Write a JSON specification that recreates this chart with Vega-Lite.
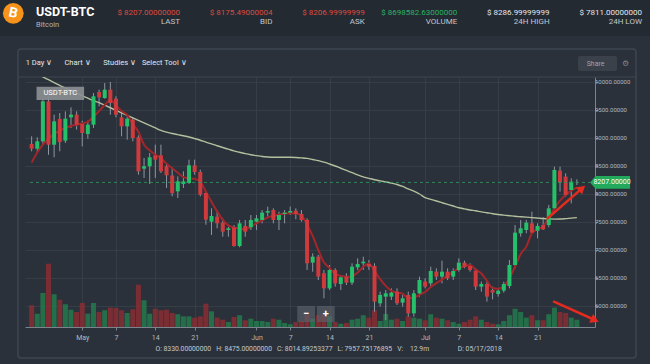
{
"$schema":"https://vega.github.io/schema/vega-lite/v6.json",
"width":570,"height":250,"autosize":"none",
"padding":{"left":25,"top":77,"right":55,"bottom":37},
"background":"#2b313a",
"config":{"font":"Roboto","view":{"stroke":null},"axis":{"labelFont":"Roboto","titleFont":"Roboto"}},
"datasets":{
"candles":[
{"d":"2018-04-22","o":8893,"h":9030,"l":8762,"c":8809,"v":20.0,"m1":8560,"m2":10200},
{"d":"2018-04-23","o":8809,"h":9012,"l":8750,"c":8940,"v":12.2,"m1":8740,"m2":10140},
{"d":"2018-04-24","o":8940,"h":9705,"l":8890,"c":9655,"v":31.3,"m1":8880,"m2":10090},
{"d":"2018-04-25","o":9655,"h":9740,"l":8700,"c":8880,"v":58.2,"m1":8990,"m2":10040},
{"d":"2018-04-26","o":8880,"h":9416,"l":8655,"c":9297,"v":30.1,"m1":9070,"m2":9990},
{"d":"2018-04-27","o":9340,"h":9446,"l":8762,"c":8928,"v":25.1,"m1":9130,"m2":9940},
{"d":"2018-04-28","o":8952,"h":9476,"l":8911,"c":9345,"v":20.9,"m1":9180,"m2":9890},
{"d":"2018-04-29","o":9369,"h":9547,"l":9179,"c":9417,"v":15.9,"m1":9215,"m2":9845},
{"d":"2018-04-30","o":9417,"h":9476,"l":9149,"c":9238,"v":13.8,"m1":9238,"m2":9800},
{"d":"2018-05-01","o":9250,"h":9309,"l":8851,"c":9089,"v":22.1,"m1":9260,"m2":9755},
{"d":"2018-05-02","o":9071,"h":9309,"l":8988,"c":9238,"v":12.2,"m1":9290,"m2":9710},
{"d":"2018-05-03","o":9238,"h":9803,"l":9179,"c":9744,"v":22.1,"m1":9380,"m2":9667},
{"d":"2018-05-04","o":9821,"h":9863,"l":9565,"c":9726,"v":13.8,"m1":9480,"m2":9630},
{"d":"2018-05-05","o":9714,"h":9982,"l":9702,"c":9863,"v":15.4,"m1":9590,"m2":9585},
{"d":"2018-05-06","o":9863,"h":10000,"l":9416,"c":9625,"v":17.8,"m1":9680,"m2":9540},
{"d":"2018-05-07","o":9702,"h":9744,"l":9369,"c":9416,"v":17.5,"m1":9580,"m2":9495},
{"d":"2018-05-08","o":9369,"h":9476,"l":9030,"c":9208,"v":15.4,"m1":9480,"m2":9450},
{"d":"2018-05-09","o":9208,"h":9387,"l":8970,"c":9345,"v":12.9,"m1":9410,"m2":9405},
{"d":"2018-05-10","o":9327,"h":9369,"l":8940,"c":9000,"v":16.3,"m1":9250,"m2":9360},
{"d":"2018-05-11","o":9012,"h":9047,"l":8345,"c":8405,"v":38.9,"m1":9110,"m2":9315},
{"d":"2018-05-12","o":8452,"h":8643,"l":8286,"c":8494,"v":24.6,"m1":8880,"m2":9270},
{"d":"2018-05-13","o":8494,"h":8732,"l":8179,"c":8655,"v":12.2,"m1":8780,"m2":9225},
{"d":"2018-05-14","o":8690,"h":8881,"l":8286,"c":8613,"v":16.8,"m1":8700,"m2":9180},
{"d":"2018-05-15","o":8690,"h":8881,"l":8375,"c":8405,"v":15.4,"m1":8640,"m2":9135},
{"d":"2018-05-16","o":8494,"h":8554,"l":8107,"c":8333,"v":15.9,"m1":8540,"m2":9105},
{"d":"2018-05-17","o":8330,"h":8475,"l":7958,"c":8015,"v":12.9,"m1":8460,"m2":9080},
{"d":"2018-05-18","o":8047,"h":8315,"l":7928,"c":8226,"v":11.7,"m1":8380,"m2":9060},
{"d":"2018-05-19","o":8179,"h":8405,"l":8107,"c":8226,"v":9.8,"m1":8300,"m2":9040},
{"d":"2018-05-20","o":8196,"h":8613,"l":8179,"c":8512,"v":9.8,"m1":8280,"m2":9018},
{"d":"2018-05-21","o":8512,"h":8613,"l":8345,"c":8393,"v":8.6,"m1":8270,"m2":8990},
{"d":"2018-05-22","o":8393,"h":8434,"l":7958,"c":7988,"v":9.8,"m1":8220,"m2":8960},
{"d":"2018-05-23","o":8018,"h":8047,"l":7452,"c":7542,"v":21.4,"m1":8040,"m2":8925},
{"d":"2018-05-24","o":7506,"h":7744,"l":7268,"c":7607,"v":14.4,"m1":7860,"m2":8895},
{"d":"2018-05-25","o":7595,"h":7684,"l":7387,"c":7476,"v":8.6,"m1":7690,"m2":8862},
{"d":"2018-05-26","o":7488,"h":7565,"l":7238,"c":7327,"v":6.7,"m1":7540,"m2":8830},
{"d":"2018-05-27","o":7357,"h":7417,"l":7238,"c":7387,"v":4.6,"m1":7440,"m2":8800},
{"d":"2018-05-28","o":7405,"h":7446,"l":7060,"c":7071,"v":9.2,"m1":7400,"m2":8770},
{"d":"2018-05-29","o":7071,"h":7536,"l":7048,"c":7476,"v":10.8,"m1":7380,"m2":8745},
{"d":"2018-05-30","o":7429,"h":7536,"l":7238,"c":7327,"v":6.2,"m1":7370,"m2":8720},
{"d":"2018-05-31","o":7405,"h":7625,"l":7357,"c":7536,"v":7.6,"m1":7420,"m2":8700},
{"d":"2018-06-01","o":7506,"h":7625,"l":7357,"c":7565,"v":5.5,"m1":7476,"m2":8685},
{"d":"2018-06-02","o":7536,"h":7714,"l":7476,"c":7667,"v":5.5,"m1":7530,"m2":8670},
{"d":"2018-06-03","o":7667,"h":7774,"l":7595,"c":7696,"v":4.6,"m1":7580,"m2":8660},
{"d":"2018-06-04","o":7714,"h":7744,"l":7476,"c":7536,"v":7.6,"m1":7610,"m2":8655},
{"d":"2018-06-05","o":7536,"h":7684,"l":7357,"c":7625,"v":6.7,"m1":7630,"m2":8655},
{"d":"2018-06-06","o":7643,"h":7714,"l":7476,"c":7667,"v":3.7,"m1":7650,"m2":8655},
{"d":"2018-06-07","o":7667,"h":7774,"l":7625,"c":7696,"v":2.5,"m1":7655,"m2":8655},
{"d":"2018-06-08","o":7702,"h":7744,"l":7548,"c":7643,"v":4.6,"m1":7650,"m2":8652},
{"d":"2018-06-09","o":7643,"h":7714,"l":7506,"c":7536,"v":5.5,"m1":7620,"m2":8645},
{"d":"2018-06-10","o":7536,"h":7565,"l":6643,"c":6762,"v":13.8,"m1":7450,"m2":8635},
{"d":"2018-06-11","o":6774,"h":6940,"l":6613,"c":6881,"v":7.6,"m1":7250,"m2":8615},
{"d":"2018-06-12","o":6881,"h":6911,"l":6464,"c":6524,"v":10.8,"m1":7000,"m2":8595},
{"d":"2018-06-13","o":6583,"h":6643,"l":6137,"c":6315,"v":12.0,"m1":6780,"m2":8568},
{"d":"2018-06-14","o":6315,"h":6732,"l":6286,"c":6643,"v":9.8,"m1":6680,"m2":8535},
{"d":"2018-06-15","o":6643,"h":6673,"l":6345,"c":6405,"v":4.6,"m1":6570,"m2":8500},
{"d":"2018-06-16","o":6393,"h":6554,"l":6286,"c":6512,"v":3.0,"m1":6540,"m2":8460},
{"d":"2018-06-17","o":6524,"h":6583,"l":6375,"c":6417,"v":3.7,"m1":6520,"m2":8420},
{"d":"2018-06-18","o":6417,"h":6762,"l":6375,"c":6702,"v":6.7,"m1":6530,"m2":8380},
{"d":"2018-06-19","o":6690,"h":6851,"l":6643,"c":6750,"v":7.6,"m1":6600,"m2":8340},
{"d":"2018-06-20","o":6762,"h":6881,"l":6643,"c":6792,"v":10.8,"m1":6700,"m2":8305},
{"d":"2018-06-21","o":6750,"h":6821,"l":6643,"c":6702,"v":8.6,"m1":6760,"m2":8280},
{"d":"2018-06-22","o":6714,"h":6762,"l":5899,"c":6077,"v":15.4,"m1":6620,"m2":8255},
{"d":"2018-06-23","o":6048,"h":6256,"l":5988,"c":6196,"v":5.5,"m1":6480,"m2":8235},
{"d":"2018-06-24","o":6167,"h":6286,"l":5750,"c":6226,"v":12.0,"m1":6360,"m2":8215},
{"d":"2018-06-25","o":6167,"h":6315,"l":6107,"c":6238,"v":6.7,"m1":6270,"m2":8195},
{"d":"2018-06-26","o":6256,"h":6315,"l":6018,"c":6048,"v":7.6,"m1":6240,"m2":8170},
{"d":"2018-06-27","o":6060,"h":6196,"l":5988,"c":6137,"v":5.5,"m1":6220,"m2":8135},
{"d":"2018-06-28","o":6196,"h":6256,"l":5810,"c":5869,"v":9.8,"m1":6140,"m2":8090},
{"d":"2018-06-29","o":5869,"h":6286,"l":5810,"c":6226,"v":8.6,"m1":6150,"m2":8050},
{"d":"2018-06-30","o":6226,"h":6524,"l":6167,"c":6464,"v":7.6,"m1":6200,"m2":8000},
{"d":"2018-07-01","o":6435,"h":6494,"l":6315,"c":6345,"v":6.2,"m1":6250,"m2":7935},
{"d":"2018-07-02","o":6405,"h":6702,"l":6345,"c":6625,"v":11.7,"m1":6340,"m2":7905},
{"d":"2018-07-03","o":6613,"h":6673,"l":6464,"c":6524,"v":8.6,"m1":6410,"m2":7875},
{"d":"2018-07-04","o":6524,"h":6810,"l":6405,"c":6613,"v":7.6,"m1":6470,"m2":7845},
{"d":"2018-07-05","o":6613,"h":6673,"l":6464,"c":6494,"v":6.2,"m1":6540,"m2":7815},
{"d":"2018-07-06","o":6524,"h":6673,"l":6464,"c":6625,"v":4.6,"m1":6610,"m2":7785},
{"d":"2018-07-07","o":6643,"h":6851,"l":6613,"c":6774,"v":3.0,"m1":6670,"m2":7755},
{"d":"2018-07-08","o":6774,"h":6810,"l":6673,"c":6702,"v":4.6,"m1":6710,"m2":7735},
{"d":"2018-07-09","o":6714,"h":6762,"l":6613,"c":6643,"v":6.7,"m1":6730,"m2":7715},
{"d":"2018-07-10","o":6631,"h":6673,"l":6286,"c":6345,"v":9.8,"m1":6650,"m2":7700},
{"d":"2018-07-11","o":6345,"h":6435,"l":6256,"c":6393,"v":6.7,"m1":6580,"m2":7680},
{"d":"2018-07-12","o":6393,"h":6435,"l":6077,"c":6167,"v":4.6,"m1":6450,"m2":7665},
{"d":"2018-07-13","o":6286,"h":6345,"l":6119,"c":6238,"v":3.0,"m1":6320,"m2":7648},
{"d":"2018-07-14","o":6214,"h":6315,"l":6167,"c":6274,"v":2.5,"m1":6310,"m2":7635},
{"d":"2018-07-15","o":6274,"h":6435,"l":6238,"c":6393,"v":5.5,"m1":6345,"m2":7622},
{"d":"2018-07-16","o":6357,"h":6821,"l":6315,"c":6732,"v":10.8,"m1":6500,"m2":7612},
{"d":"2018-07-17","o":6732,"h":7446,"l":6673,"c":7310,"v":16.8,"m1":6700,"m2":7602},
{"d":"2018-07-18","o":7298,"h":7536,"l":7238,"c":7387,"v":13.8,"m1":6930,"m2":7594},
{"d":"2018-07-19","o":7357,"h":7536,"l":7298,"c":7488,"v":8.6,"m1":7060,"m2":7586},
{"d":"2018-07-20","o":7476,"h":7684,"l":7298,"c":7310,"v":10.8,"m1":7300,"m2":7578},
{"d":"2018-07-21","o":7345,"h":7476,"l":7208,"c":7429,"v":6.2,"m1":7370,"m2":7570},
{"d":"2018-07-22","o":7446,"h":7583,"l":7357,"c":7369,"v":6.2,"m1":7420,"m2":7562},
{"d":"2018-07-23","o":7446,"h":7804,"l":7405,"c":7744,"v":11.7,"m1":7580,"m2":7556},
{"d":"2018-07-24","o":7744,"h":8488,"l":7714,"c":8429,"v":17.8,"m1":7740,"m2":7552},
{"d":"2018-07-25","o":8417,"h":8488,"l":8042,"c":8202,"v":13.8,"m1":7880,"m2":7553},
{"d":"2018-07-26","o":8310,"h":8369,"l":7952,"c":7982,"v":12.9,"m1":7980,"m2":7560},
{"d":"2018-07-27","o":8071,"h":8280,"l":7833,"c":8220,"v":8.6,"m1":8060,"m2":7570},
{"d":"2018-07-28","o":8202,"h":8262,"l":8161,"c":8207,"v":6.7,"m1":8120,"m2":7578}
],
"ticks":[{"p":6000},{"p":6500},{"p":7000},{"p":7500},{"p":8000},{"p":8500},{"p":9000},{"p":9500},{"p":10000}],
"header":[
{"k":"LAST","line":"value","t":"$ 8207.00000000","tone":"down"},
{"k":"LAST","line":"label","t":"LAST","tone":"label"},
{"k":"BID","line":"value","t":"$ 8175.49000004","tone":"down"},
{"k":"BID","line":"label","t":"BID","tone":"label"},
{"k":"ASK","line":"value","t":"$ 8206.99999999","tone":"down"},
{"k":"ASK","line":"label","t":"ASK","tone":"label"},
{"k":"VOLUME","line":"value","t":"$ 8698582.63000000","tone":"up"},
{"k":"VOLUME","line":"label","t":"VOLUME","tone":"label"},
{"k":"24H HIGH","line":"value","t":"$ 8286.99999999","tone":"flat"},
{"k":"24H HIGH","line":"label","t":"24H HIGH","tone":"label"},
{"k":"24H LOW","line":"value","t":"$ 7811.00000000","tone":"flat"},
{"k":"24H LOW","line":"label","t":"24H LOW","tone":"label"}
],
"toolbar":[
{"k":"1 Day","t":"1 Day \u2228"},
{"k":"Chart","t":"Chart \u2228"},
{"k":"Studies","t":"Studies \u2228"},
{"k":"Select Tool","t":"Select Tool \u2228"}
]
},
"layer":[
{"data":{"values":[{}]},"mark":{"type":"rect","color":"#242a32"},
 "encoding":{
  "x":{"datum":0,"type":"quantitative","scale":{"domain":[0,1],"range":[-25,625]},"axis":null},
  "x2":{"datum":1},
  "y":{"datum":0,"type":"quantitative","scale":{"domain":[0,1],"range":[-77,-41]},"axis":null},
  "y2":{"datum":1}}},
{"data":{"values":[{}]},
 "layer":[
  {"mark":{"type":"rect","fill":null,"fillOpacity":0,"stroke":"#3e4651","strokeWidth":1.5,"cornerRadius":3},
   "encoding":{
    "x":{"datum":0,"type":"quantitative","scale":{"domain":[0,1],"range":[-7,611]},"axis":null},
    "x2":{"datum":1},
    "y":{"datum":0,"type":"quantitative","scale":{"domain":[0,1],"range":[-28,281]},"axis":null},
    "y2":{"datum":1}}},
  {"mark":{"type":"rule","color":"#3e4651","strokeWidth":1.2},
   "encoding":{"x":{"datum":0,"type":"quantitative"},"x2":{"datum":1},"y":{"datum":0.0906,"type":"quantitative"}}}
 ]},
{"data":{"name":"candles"},
 "layer":[
  {"mark":{"type":"bar","width":5,"opacity":0.8},
   "encoding":{
    "x":{"field":"d","type":"temporal",
     "scale":{"type":"utc","domain":[1524330000000,1532937600000],"nice":false},
     "axis":{"orient":"bottom","values":[1525132800000,1525651200000,1526256000000,1526860800000,1527811200000,1528329600000,1528934400000,1529539200000,1530403200000,1530921600000,1531526400000,1532131200000],
      "labelExpr":"utcdate(datum.value) == 1 ? utcFormat(datum.value, '%b') : utcFormat(datum.value, '%-d')",
      "grid":true,"gridColor":"#353d47","labelFontSize":7,"labelColor":"#b3b9bf","labelPadding":3,"labelAngle":0,"labelFlush":false,"labelOverlap":false,
      "tickSize":3,"tickColor":"#7b838d","domainColor":"#7b838d",
      "title":"O:\u00a08330.00000000\u00a0\u00a0\u00a0H:\u00a08475.00000000\u00a0\u00a0\u00a0C:\u00a08014.89253377\u00a0\u00a0\u00a0L:\u00a07957.75176895\u00a0\u00a0\u00a0V:\u00a0\u00a0\u00a0\u00a012.9m\u00a0\u00a0\u00a0\u00a0\u00a0\u00a0\u00a0\u00a0\u00a0\u00a0\u00a0\u00a0\u00a0\u00a0\u00a0\u00a0\u00a0D:\u00a005/17/2018",
      "titleFontSize":6.8,"titleFontWeight":"normal","titleColor":"#c4c9ce","titleAnchor":"start","titleAlign":"left","titleX":130,"titleY":21,"titleBaseline":"middle"}},
    "y":{"field":"v","type":"quantitative","scale":{"domain":[0,230]},"axis":null},
    "color":{"condition":{"test":"datum.c >= datum.o","value":"#23804f"},"value":"#8e2d32"}}},
  {"layer":[
   {"mark":{"type":"rule","color":"#8c96a2","strokeWidth":1},
    "encoding":{"x":{"field":"d","type":"temporal"},"y":{"field":"l","type":"quantitative","scale":{"domain":[5625,10089],"nice":false,"zero":false},
      "axis":{"orient":"right","values":[6000,6500,7000,7500,8000,8500,9000,9500,10000],"tickCount":9,"labels":false,"title":null,"grid":true,"gridColor":"#353d47","tickSize":3,"tickColor":"#7b838d","domainColor":"#7b838d"}},
     "y2":{"field":"h"}}},
   {"mark":{"type":"line","color":"#b4bf9e","strokeWidth":1.4,"clip":true,"interpolate":"monotone"},
    "encoding":{"x":{"field":"d","type":"temporal"},"y":{"field":"m2","type":"quantitative"}}},
   {"mark":{"type":"line","color":"#a3262b","strokeWidth":2,"interpolate":"monotone"},
    "encoding":{"x":{"field":"d","type":"temporal"},"y":{"field":"m1","type":"quantitative"}}},
   {"mark":{"type":"bar","width":4},
    "encoding":{"x":{"field":"d","type":"temporal"},"y":{"field":"o","type":"quantitative"},"y2":{"field":"c"},
     "color":{"condition":{"test":"datum.c >= datum.o","value":"#25c06a"},"value":"#cf3a3d"}}},
   {"data":{"name":"ticks"},"mark":{"type":"text","color":"#b3b9bf","fontSize":6,"align":"left","baseline":"middle","dx":5},
    "encoding":{"x":{"datum":1532937600000,"type":"temporal"},"y":{"field":"p","type":"quantitative"},"text":{"field":"p","type":"quantitative","format":".5f"}}},
   {"data":{"values":[{}]},"mark":{"type":"rule","color":"#2f9e5f","strokeDash":[3,3],"strokeWidth":1,"opacity":0.8},
    "encoding":{"x":{"datum":1524330000000,"type":"temporal"},"x2":{"datum":1532937600000},
     "y":{"datum":8207,"type":"quantitative"}}},
   {"data":{"values":[{}]},"mark":{"type":"point","shape":"M -1 0 L -0.72 -0.32 L 1 -0.32 L 1 0.32 L -0.72 0.32 Z","filled":true,"color":"#22a95c","size":1600,"opacity":1,"xOffset":20},
    "encoding":{"x":{"datum":1532937600000,"type":"temporal"},"y":{"datum":8207,"type":"quantitative"}}},
   {"data":{"values":[{}]},"mark":{"type":"text","text":"8207.00000","color":"#ffffff","fontSize":7,"align":"center","baseline":"middle","dx":22},
    "encoding":{"x":{"datum":1532937600000,"type":"temporal"},"y":{"datum":8207,"type":"quantitative"}}},
   {"data":{"values":[{}]},"mark":{"type":"rect","color":"#8a8e93","opacity":0.92},
    "encoding":{"x":{"datum":1524430800000,"type":"temporal"},"x2":{"datum":1525161600000},
     "y":{"datum":9916,"type":"quantitative"},"y2":{"datum":9679}}},
   {"data":{"values":[{}]},"mark":{"type":"text","text":"USDT-BTC","color":"#ffffff","fontSize":7.5,"align":"center","baseline":"middle"},
    "encoding":{"x":{"datum":1524796200000,"type":"temporal"},"y":{"datum":9797,"type":"quantitative"}}},
   {"data":{"values":[{}]},"mark":{"type":"rect","color":"#5c636c","opacity":0.65},
    "encoding":{"x":{"datum":1528437600000,"type":"temporal"},"x2":{"datum":1528711200000},
     "y":{"datum":6000,"type":"quantitative"},"y2":{"datum":5714}}},
   {"data":{"values":[{}]},"mark":{"type":"rect","color":"#5c636c","opacity":0.65},
    "encoding":{"x":{"datum":1528740000000,"type":"temporal"},"x2":{"datum":1529013600000},
     "y":{"datum":6000,"type":"quantitative"},"y2":{"datum":5714}}},
   {"data":{"values":[{}]},"mark":{"type":"text","text":"\u2212","color":"#ffffff","fontSize":11,"fontWeight":"bold","align":"center","baseline":"middle"},
    "encoding":{"x":{"datum":1528574400000,"type":"temporal"},"y":{"datum":5857,"type":"quantitative"}}},
   {"data":{"values":[{}]},"mark":{"type":"text","text":"+","color":"#ffffff","fontSize":11,"fontWeight":"bold","align":"center","baseline":"middle"},
    "encoding":{"x":{"datum":1528876800000,"type":"temporal"},"y":{"datum":5857,"type":"quantitative"}}},
   {"data":{"values":[{}]},"mark":{"type":"rule","color":"#e52a1f","strokeWidth":2.5,"strokeCap":"round"},
    "encoding":{"x":{"datum":1532286000000,"type":"temporal"},"x2":{"datum":1532815200000},
     "y":{"datum":7566,"type":"quantitative"},"y2":{"datum":8101}}},
   {"data":{"values":[{}]},"mark":{"type":"point","shape":"triangle-up","filled":true,"color":"#e52a1f","size":90,"opacity":1,"angle":49},
    "encoding":{"x":{"datum":1532815200000,"type":"temporal"},"y":{"datum":8101,"type":"quantitative"}}},
   {"data":{"values":[{}]},"mark":{"type":"rule","color":"#e52a1f","strokeWidth":2.5,"strokeCap":"round"},
    "encoding":{"x":{"datum":1532383200000,"type":"temporal"},"x2":{"datum":1533013200000},
     "y":{"datum":6077,"type":"quantitative"},"y2":{"datum":5750}}},
   {"data":{"values":[{}]},"mark":{"type":"point","shape":"triangle-up","filled":true,"color":"#e52a1f","size":90,"opacity":1,"angle":114},
    "encoding":{"x":{"datum":1533013200000,"type":"temporal"},"y":{"datum":5750,"type":"quantitative"}}}
  ]}
 ],
 "resolve":{"scale":{"y":"independent"}}},
{"data":{"name":"header"},
 "mark":{"type":"text","align":"right","baseline":"middle","fontSize":8},
 "encoding":{
  "x":{"field":"k","type":"nominal","scale":{"type":"point","domain":["LAST","BID","ASK","VOLUME","24H HIGH","24H LOW"],"range":[155,617],"padding":0},"axis":null},
  "y":{"field":"line","type":"nominal","scale":{"type":"point","domain":["value","label"],"range":[-64.3,-55.3],"padding":0},"axis":null},
  "text":{"field":"t"},
  "color":{"field":"tone","type":"nominal","scale":{"domain":["down","up","flat","label"],"range":["#de4a40","#2bb464","#e4e7ea","#c2c7cc"]},"legend":null}}},
{"data":{"name":"toolbar"},
 "mark":{"type":"text","align":"left","baseline":"middle","fontSize":7.5,"color":"#e3e6e9"},
 "encoding":{
  "x":{"field":"k","type":"nominal","scale":{"type":"point","domain":["1 Day","Chart","Studies","Select Tool"],"range":[0.7,116.9],"padding":0},"axis":null},
  "y":{"datum":0,"type":"quantitative","scale":{"domain":[0,1],"range":[-14,0]},"axis":null},
  "text":{"field":"t"}}},
{"data":{"values":[{}]},
 "layer":[
  {"mark":{"type":"rect","color":"#3a414b","cornerRadius":2},
   "encoding":{
    "x":{"datum":0,"type":"quantitative","scale":{"domain":[0,1],"range":[553,592]},"axis":null},
    "x2":{"datum":1},
    "y":{"datum":0,"type":"quantitative","scale":{"domain":[0,1],"range":[-21,-6]},"axis":null},
    "y2":{"datum":1}}},
  {"mark":{"type":"text","text":"Share","color":"#9ea5ac","fontSize":7,"align":"center","baseline":"middle"},
   "encoding":{"x":{"datum":0.45,"type":"quantitative"},"y":{"datum":0.5,"type":"quantitative"}}},
  {"mark":{"type":"text","text":"\u2699","color":"#7e858d","fontSize":8,"align":"center","baseline":"middle"},
   "encoding":{"x":{"datum":1.23,"type":"quantitative"},"y":{"datum":0.5,"type":"quantitative"}}}
 ]},
{"data":{"values":[{}]},
 "layer":[
  {"mark":{"type":"point","shape":"circle","filled":true,"color":"#f7931a","size":430,"opacity":1},
   "encoding":{
    "x":{"datum":0,"type":"quantitative","scale":{"domain":[0,1],"range":[-11.7,0]},"axis":null},
    "y":{"datum":0,"type":"quantitative","scale":{"domain":[0,1],"range":[-63.7,0]},"axis":null}}},
  {"mark":{"type":"text","text":"B","color":"#ffffff","fontSize":14,"fontWeight":"bold","angle":12,"align":"center","baseline":"middle"},
   "encoding":{"x":{"datum":0,"type":"quantitative"},"y":{"datum":0,"type":"quantitative"}}}
 ]},
{"data":{"values":[{}]},
 "layer":[
  {"mark":{"type":"text","text":"USDT-BTC","color":"#ffffff","fontSize":12.5,"fontWeight":"bold","align":"left","baseline":"middle"},
   "encoding":{
    "x":{"datum":0,"type":"quantitative","scale":{"domain":[0,1],"range":[11,12]},"axis":null},
    "y":{"datum":0,"type":"quantitative","scale":{"domain":[0,1],"range":[-65,-52.5]},"axis":null}}},
  {"mark":{"type":"text","text":"Bitcoin","color":"#b0b6bc","fontSize":7.5,"align":"left","baseline":"middle"},
   "encoding":{"x":{"datum":0,"type":"quantitative"},"y":{"datum":1,"type":"quantitative"}}}
 ]}
],
"resolve":{"scale":{"x":"independent","y":"independent"}}
}
